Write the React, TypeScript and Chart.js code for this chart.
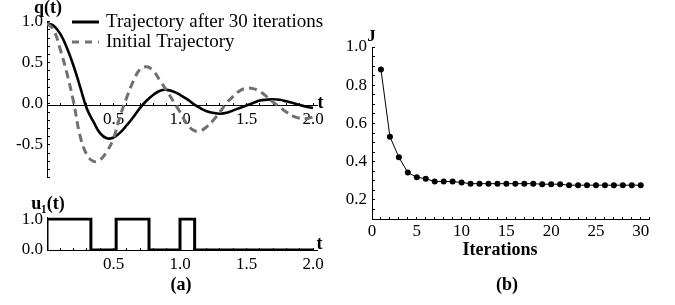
import React, { useEffect, useRef } from 'react';
import { Chart, registerables } from 'chart.js';

Chart.register(...registerables);

// ---------- data ----------
const timeSamples = [
  0, 0.05, 0.1, 0.15, 0.2, 0.25, 0.3, 0.35, 0.4, 0.45, 0.5, 0.55, 0.6, 0.65, 0.7, 0.75, 0.8, 0.85, 0.9, 0.95,
  1.0, 1.05, 1.1, 1.15, 1.2, 1.25, 1.3, 1.35, 1.4, 1.45, 1.5, 1.55, 1.6, 1.65, 1.7, 1.75, 1.8, 1.85, 1.9, 1.95, 2.0,
];
const qAfter30 = [
  1.0, 0.97, 0.87, 0.7, 0.48, 0.22, -0.04, -0.2, -0.34, -0.4, -0.39, -0.33, -0.24, -0.14, -0.03, 0.06, 0.13, 0.18, 0.19, 0.17,
  0.13, 0.08, 0.02, -0.03, -0.07, -0.09, -0.1, -0.09, -0.06, -0.03, 0.0, 0.03, 0.06, 0.07, 0.075, 0.07, 0.05, 0.03, 0.005, -0.015, -0.03,
];
const qInitial = [
  1.0, 0.92, 0.68, 0.39, 0.04, -0.38, -0.6, -0.68, -0.66, -0.56, -0.4, -0.13, 0.1, 0.3, 0.44, 0.47, 0.42, 0.3, 0.18, 0.05,
  -0.08, -0.22, -0.3, -0.31, -0.26, -0.18, -0.08, 0.03, 0.11, 0.18, 0.21, 0.205, 0.17, 0.11, 0.04, -0.02, -0.08, -0.13, -0.155, -0.16, -0.14,
];
const uSwitchTimes = [0, 0, 0.33, 0.52, 0.767, 1.0, 1.11, 2.0];
const uLevels = [0, 1, 0, 1, 0, 1, 0, 0];
const iterations = [
  1, 2, 3, 4, 5, 6, 7, 8, 9, 10, 11, 12, 13, 14, 15, 16, 17, 18, 19, 20, 21, 22, 23, 24, 25, 26, 27, 28, 29, 30,
];
const costJ = [
  0.882, 0.531, 0.423, 0.343, 0.318, 0.311, 0.296, 0.296, 0.296, 0.291, 0.285, 0.285, 0.285, 0.285, 0.285,
  0.285, 0.285, 0.285, 0.282, 0.282, 0.282, 0.277, 0.277, 0.277, 0.277, 0.277, 0.277, 0.277, 0.277, 0.277,
];
const legendLabels = ['Trajectory after 30 iterations', 'Initial Trajectory'];

// ---------- styles ----------
const SERIF = '"Liberation Serif", "Times New Roman", serif';
const tickFont = { family: SERIF, size: 17 };
const GRAY = '#707070';

type TextItem = { text: string; x: number; y: number; font: string; align?: CanvasTextAlign };

function textPlugin(id: string, items: TextItem[], extra?: (ctx: CanvasRenderingContext2D) => void) {
  return {
    id,
    afterDraw(chart: any) {
      const ctx: CanvasRenderingContext2D = chart.ctx;
      ctx.save();
      ctx.fillStyle = '#000';
      ctx.textBaseline = 'alphabetic';
      for (const it of items) {
        ctx.font = it.font;
        ctx.textAlign = it.align || 'center';
        ctx.fillText(it.text, it.x, it.y);
      }
      if (extra) extra(ctx);
      ctx.restore();
    },
  };
}

function fmtEvery(step: number, scale: number, skipZero: boolean, decimals: number) {
  return (v: any) => {
    const k = Math.round(Number(v) * scale);
    const s = Math.round(step * scale);
    if (k % s !== 0) return '';
    if (skipZero && k === 0) return '';
    return (k / scale).toFixed(decimals);
  };
}

function axisCommon(extra: any) {
  return {
    type: 'linear',
    grid: { drawOnChartArea: false, tickLength: -3, color: '#000', lineWidth: 1 },
    border: { display: true, color: '#000', width: 1 },
    ...extra,
  };
}

export default function App() {
  const refA = useRef<HTMLCanvasElement>(null);
  const refB = useRef<HTMLCanvasElement>(null);
  const refC = useRef<HTMLCanvasElement>(null);

  useEffect(() => {
    const charts: Chart[] = [];

    // ---- (a) top: q(t) ----
    const legendExtra = (ctx: CanvasRenderingContext2D) => {
      ctx.lineWidth = 3;
      ctx.strokeStyle = '#000';
      ctx.setLineDash([]);
      ctx.beginPath();
      ctx.moveTo(72, 22);
      ctx.lineTo(99, 22);
      ctx.stroke();
      ctx.strokeStyle = GRAY;
      ctx.setLineDash([7, 6]);
      ctx.beginPath();
      ctx.moveTo(72, 42);
      ctx.lineTo(99, 42);
      ctx.stroke();
      ctx.setLineDash([]);
      ctx.font = `19px ${SERIF}`;
      ctx.textAlign = 'left';
      ctx.textBaseline = 'middle';
      ctx.fillStyle = '#000';
      ctx.fillText(legendLabels[0], 106, 22);
      ctx.fillText(legendLabels[1], 106, 42);
    };
    charts.push(
      new Chart(refA.current!, {
        type: 'line',
        data: {
          datasets: [
            {
              data: timeSamples.map((t, i) => ({ x: t, y: qInitial[i] })),
              borderColor: GRAY,
              borderWidth: 3,
              borderDash: [8, 5],
              pointRadius: 0,
              tension: 0.4,
              fill: false,
            },
            {
              data: timeSamples.map((t, i) => ({ x: t, y: qAfter30[i] })),
              borderColor: '#000',
              borderWidth: 2.6,
              pointRadius: 0,
              tension: 0.4,
              fill: false,
            },
          ],
        },
        options: {
          responsive: false,
          animation: false,
          layout: { padding: { left: 0, right: 23, top: 21.6, bottom: 10 } },
          plugins: { legend: { display: false }, tooltip: { enabled: false } },
          scales: {
            x: axisCommon({
              min: 0,
              max: 2.03,
              position: { y: 0 },
              afterFit: (s: any) => {
                s.height = 0;
              },
              ticks: {
                stepSize: 0.1,
                includeBounds: false,
                autoSkip: false,
                maxRotation: 0,
                maxTicksLimit: 1000,
                padding: 7,
                color: '#000',
                font: tickFont,
                callback: fmtEvery(0.5, 10, true, 1),
              },
            }),
            y: axisCommon({
              min: -0.88,
              max: 1.02,
              afterFit: (s: any) => {
                s.width = 47;
              },
              ticks: {
                stepSize: 0.1,
                includeBounds: false,
                autoSkip: false,
                maxTicksLimit: 1000,
                padding: 7,
                color: '#000',
                font: tickFont,
                callback: fmtEvery(0.5, 10, false, 1),
              },
            }),
          },
        } as any,
        plugins: [
          textPlugin(
            'labelsA',
            [
              { text: 'q(t)', x: 48, y: 13, font: `bold 18px ${SERIF}` },
              { text: 't', x: 320.5, y: 108, font: `bold 18px ${SERIF}` },
            ],
            legendExtra
          ),
        ],
      } as any)
    );

    // ---- (a) bottom: u1(t) ----
    charts.push(
      new Chart(refB.current!, {
        type: 'line',
        data: {
          datasets: [
            {
              data: uSwitchTimes.map((t, i) => ({ x: t, y: uLevels[i] })),
              borderColor: '#000',
              borderWidth: 3,
              pointRadius: 0,
              stepped: 'before',
              fill: false,
            },
          ],
        },
        options: {
          responsive: false,
          animation: false,
          layout: { padding: { left: 0, right: 23, top: 22.5, bottom: 55 } },
          plugins: { legend: { display: false }, tooltip: { enabled: false } },
          scales: {
            x: axisCommon({
              min: 0,
              max: 2.03,
              position: { y: 0 },
              afterFit: (s: any) => {
                s.height = 0;
              },
              ticks: {
                stepSize: 0.1,
                includeBounds: false,
                autoSkip: false,
                maxRotation: 0,
                maxTicksLimit: 1000,
                padding: 7,
                color: '#000',
                font: tickFont,
                callback: fmtEvery(0.5, 10, true, 1),
              },
            }),
            y: axisCommon({
              min: 0,
              max: 1.05,
              afterFit: (s: any) => {
                s.width = 47;
              },
              ticks: {
                stepSize: 1,
                includeBounds: false,
                autoSkip: false,
                padding: 7,
                color: '#000',
                font: tickFont,
                callback: fmtEvery(1, 10, false, 1),
              },
            }),
          },
        } as any,
        plugins: [
          textPlugin('labelsB', [
            { text: 'u\u2081(t)', x: 48, y: 13.5, font: `bold 18px ${SERIF}` },
            { text: 't', x: 319.5, y: 54, font: `bold 18px ${SERIF}` },
            { text: '(a)', x: 181, y: 95, font: `bold 18px ${SERIF}` },
          ]),
        ],
      } as any)
    );

    // ---- (b): J vs iterations ----
    charts.push(
      new Chart(refC.current!, {
        type: 'line',
        data: {
          datasets: [
            {
              data: iterations.map((n, i) => ({ x: n, y: costJ[i] })),
              borderColor: '#000',
              borderWidth: 1,
              pointRadius: 3,
              pointBackgroundColor: '#000',
              pointBorderColor: '#000',
              pointBorderWidth: 0,
              tension: 0,
              fill: false,
            },
          ],
        },
        options: {
          responsive: false,
          animation: false,
          layout: { padding: { left: 0, right: 25.3, top: 47, bottom: 86 } },
          plugins: { legend: { display: false }, tooltip: { enabled: false } },
          scales: {
            x: axisCommon({
              min: 0,
              max: 31,
              position: { y: 0.1 },
              afterFit: (s: any) => {
                s.height = 0;
              },
              ticks: {
                stepSize: 1,
                includeBounds: false,
                autoSkip: false,
                maxRotation: 0,
                maxTicksLimit: 1000,
                padding: 5,
                color: '#000',
                font: tickFont,
                callback: fmtEvery(5, 1, false, 0),
              },
            }),
            y: axisCommon({
              min: 0.1,
              max: 1.0,
              afterFit: (s: any) => {
                s.width = 32;
              },
              ticks: {
                stepSize: 0.05,
                includeBounds: false,
                autoSkip: false,
                maxTicksLimit: 1000,
                padding: 8,
                color: '#000',
                font: tickFont,
                callback: fmtEvery(0.2, 100, false, 1),
              },
            }),
          },
        } as any,
        plugins: [
          textPlugin('labelsC', [
            { text: 'J', x: 31.5, y: 41, font: `bold 17px ${SERIF}` },
            { text: 'Iterations', x: 160, y: 255, font: `bold 18px ${SERIF}` },
            { text: '(b)', x: 167, y: 290, font: `bold 18px ${SERIF}` },
          ]),
        ],
      } as any)
    );

    return () => {
      charts.forEach((c) => c.destroy());
    };
  }, []);

  const abs = (left: number, top: number): React.CSSProperties => ({
    position: 'absolute',
    left,
    top,
  });

  return (
    <div style={{ position: 'absolute', left: 0, top: 0, width: 675, height: 305, background: '#fff', overflow: 'hidden' }}>
      <canvas ref={refA} width={340} height={195} style={abs(0, 0)} />
      <canvas ref={refB} width={340} height={110} style={abs(0, 195)} />
      <canvas ref={refC} width={335} height={305} style={abs(340, 0)} />
    </div>
  );
}
